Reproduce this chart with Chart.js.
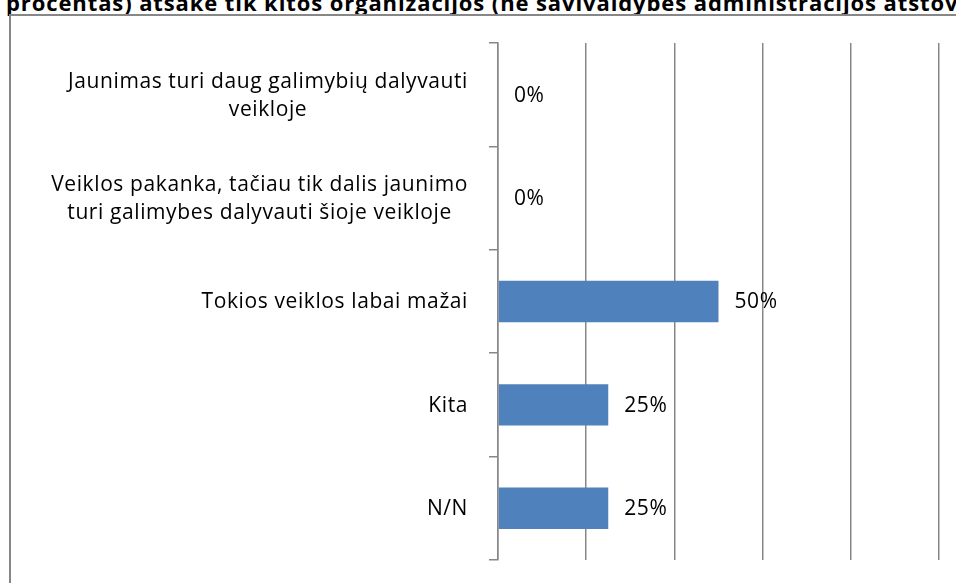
<!DOCTYPE html>
<html>
<head>
<meta charset="utf-8">
<script src="https://cdn.jsdelivr.net/npm/chart.js@4"></script>
<style>
  html, body { margin: 0; padding: 0; background: #fff; overflow: hidden; }
  #wrap { position: relative; width: 956px; height: 583px; overflow: hidden; }
  #title { position: absolute; left: 6px; top: -8px; white-space: nowrap;
           font: bold 22px "Open Sans", sans-serif; letter-spacing: 0.9px; line-height: 20px; color: #000; }
  #frame { position: absolute; left: 9px; top: 14px; width: 1000px; height: 700px;
           border: 2px solid #878787; }
  #myChart { position: absolute; left: 0; top: 0; }
</style>
</head>
<body>
<div id="wrap">
  <div id="title">procentas) atsakė tik kitos organizacijos (ne savivaldybės administracijos atstovai)</div>
  <div id="frame"></div>
  <canvas id="myChart" width="956" height="583"></canvas>
</div>
<script>
// kategorijos (eilutėmis), reikšmės ir užrašai
const categories = [
  ['Jaunimas turi daug galimybių dalyvauti', 'veikloje'],
  ['Veiklos pakanka, tačiau tik dalis jaunimo', 'turi galimybes dalyvauti šioje veikloje'],
  ['Tokios veiklos labai mažai'],
  ['Kita'],
  ['N/N']
];
const values = [0, 0, 50, 25, 25];
const valueLabels = ['0%', '0%', '50%', '25%', '25%'];

const gray = '#878787';
const labelFont = '21px "Open Sans", sans-serif';

// kairės ašies užrašai ir reikšmių užrašai
const labelsPlugin = {
  id: 'labelsPlugin',
  afterDraw(chart) {
    const ctx = chart.ctx;
    const yScale = chart.scales.y;
    const left = chart.chartArea.left;
    ctx.save();
    ctx.font = labelFont;
    ctx.fillStyle = '#000';
    ctx.textBaseline = 'middle';
    ctx.letterSpacing = '0.6px';
    categories.forEach(function (lines, i) {
      const y = yScale.getPixelForTick(i);
      let w = 0;
      lines.forEach(function (l) { w = Math.max(w, ctx.measureText(l).width); });
      const cx = left - 30 - w / 2;
      ctx.textAlign = 'center';
      lines.forEach(function (l, j) {
        ctx.fillText(l, cx, y + 1 + (j - (lines.length - 1) / 2) * 28);
      });
    });
    const meta = chart.getDatasetMeta(0);
    ctx.textAlign = 'left';
    meta.data.forEach(function (bar, i) {
      ctx.fillText(valueLabels[i], bar.x + 16, bar.y + 1);
    });
    ctx.restore();
  }
};

const ctx = document.getElementById('myChart');

new Chart(ctx, {
  type: 'bar',
  data: {
    labels: categories,
    datasets: [{
      data: values,
      backgroundColor: '#4f81bd',
      borderWidth: 0,
      barPercentage: 0.4,
      categoryPercentage: 1.0
    }]
  },
  options: {
    indexAxis: 'y',
    responsive: false,
    animation: false,
    layout: { padding: { left: 0, top: 43, right: 17, bottom: 23 } },
    plugins: {
      legend: { display: false },
      tooltip: { enabled: false }
    },
    scales: {
      x: {
        min: 0,
        max: 100,
        ticks: { display: false, stepSize: 20 },
        grid: { color: gray, lineWidth: 1.5, drawTicks: false },
        border: { display: false },
        afterFit: function (s) { s.height = 0; }
      },
      y: {
        ticks: { display: false },
        grid: { drawOnChartArea: false, drawTicks: true, tickLength: 9, color: gray, lineWidth: 1.5, offset: true },
        border: { display: true, color: gray, width: 1.5 },
        afterFit: function (s) { s.width = 498; }
      }
    }
  },
  plugins: [labelsPlugin]
});
</script>
</body>
</html>
